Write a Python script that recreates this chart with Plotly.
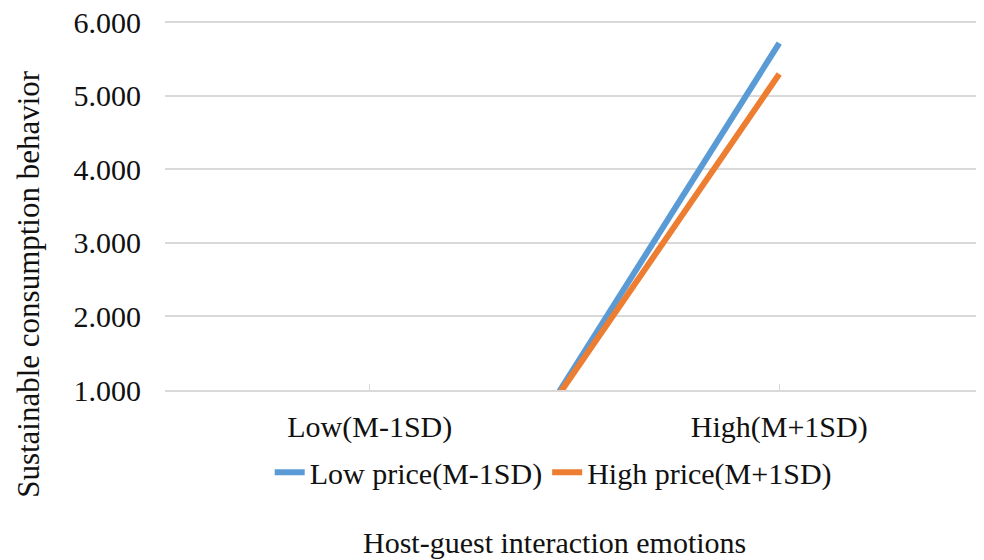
import plotly.graph_objects as go

categories = ["Low(M-1SD)", "High(M+1SD)"]
low_price = [-3.10, 5.715]
high_price = [-2.80, 5.295]
series_names = ["Low price(M-1SD)", "High price(M+1SD)"]
y_ticks = [1, 2, 3, 4, 5, 6]
y_ticklabels = ["1.000", "2.000", "3.000", "4.000", "5.000", "6.000"]

FONT = "Liberation Serif"
FS = 30
fig = go.Figure()
fig.add_trace(go.Scatter(x=categories, y=low_price, mode="lines", name=series_names[0],
                         line=dict(color="#5B9BD5", width=6)))
fig.add_trace(go.Scatter(x=categories, y=high_price, mode="lines", name=series_names[1],
                         line=dict(color="#ED7D31", width=6)))

# page has an 8px body margin, so the figure is 8px smaller on each axis
fig.update_layout(
    width=976, height=552,
    margin=dict(l=157, r=0, t=12, b=170, autoexpand=False),
    paper_bgcolor="white", plot_bgcolor="white",
    font=dict(family=FONT, size=FS, color="#111111"),
    showlegend=True,
    legend=dict(orientation="h", x=0.474, xanchor="center", y=-0.222, yanchor="middle",
                font=dict(family=FONT, size=FS), itemwidth=30, tracegroupgap=0,
                bgcolor="rgba(0,0,0,0)"),
    xaxis=dict(type="category", range=[-0.5, 1.5], showgrid=False, showline=True,
               linecolor="#d9d9d9", linewidth=1.5, ticks="inside", ticklen=6,
               tickcolor="#d9d9d9", ticklabelstandoff=9, zeroline=False,
               tickfont=dict(family=FONT, size=FS)),
    yaxis=dict(range=[1, 6.03], tickvals=y_ticks, ticktext=y_ticklabels, showgrid=True,
               gridcolor="#d9d9d9", gridwidth=1.5, zeroline=False, showline=False,
               ticks="", ticklabelstandoff=23, ticklabeloverflow="allow",
               tickfont=dict(family=FONT, size=FS)),
    annotations=[
        dict(text="Host-guest interaction emotions", xref="paper", yref="paper",
             x=0.475, y=-0.411, xanchor="center", yanchor="middle", showarrow=False,
             font=dict(family=FONT, size=FS)),
        dict(text="Sustainable consumption behavior", xref="paper", yref="paper",
             x=-0.166, y=0.287, xanchor="center", yanchor="middle", showarrow=False,
             textangle=-90, font=dict(family=FONT, size=31)),
    ],
)

fig.write_html("out.html")
